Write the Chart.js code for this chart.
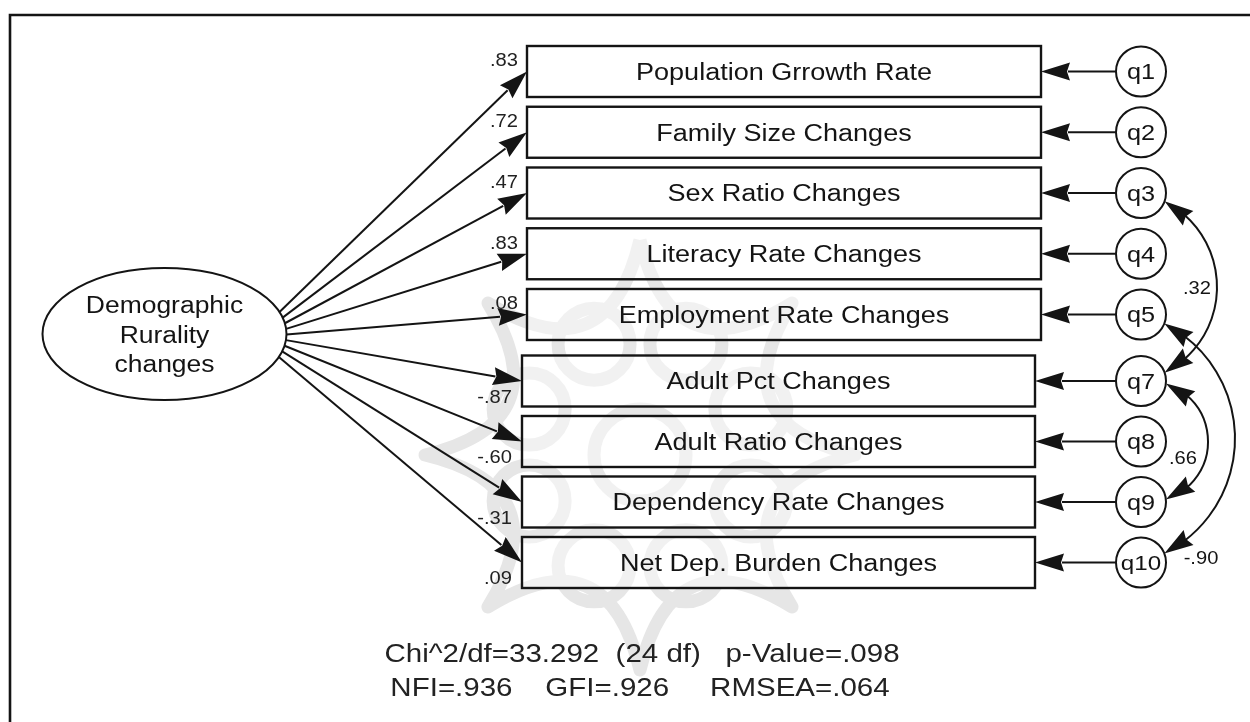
<!DOCTYPE html>
<html>
<head>
<meta charset="utf-8">
<script src="https://cdn.jsdelivr.net/npm/chart.js@4.4.1/dist/chart.umd.min.js"></script>
<style>
  html, body { margin: 0; padding: 0; background: #ffffff; }
  #wrap { width: 1250px; height: 722px; }
</style>
</head>
<body>
<div id="wrap"><canvas id="c" width="1250" height="722"></canvas></div>
<script>
// ---------------- DATA ----------------
const indicators = [
  'Population Grrowth Rate', 'Family Size Changes', 'Sex Ratio Changes',
  'Literacy Rate Changes', 'Employment Rate Changes', 'Adult Pct Changes',
  'Adult Ratio Changes', 'Dependency Rate Changes', 'Net Dep. Burden Changes'
];
const loadings = ['.83', '.72', '.47', '.83', '.08', '-.87', '-.60', '-.31', '.09'];
const errorTerms = ['q1', 'q2', 'q3', 'q4', 'q5', 'q7', 'q8', 'q9', 'q10'];
const covFrom = ['q3', 'q7', 'q5'];
const covTo = ['q7', 'q9', 'q10'];
const covValues = ['.32', '.66', '-.90'];
const latentLabel = ['Demographic', 'Rurality', 'changes'];
const fitLines = ['Chi^2/df=33.292  (24 df)   p-Value=.098', 'NFI=.936    GFI=.926     RMSEA=.064'];

// ---------------- LAYOUT (drawing geometry, not data) ----------------
const L = {
  W: 1250, H: 722,
  font: '"Liberation Sans", Arial, sans-serif',
  stretch: 1.15,
  ink: '#141414',
  frame: { x: 10, y: 15 },
  ellipse: { cx: 164.5, cy: 334, rx: 122, ry: 66, lineY: [313, 343, 372], size: 23 },
  topCount: 5,
  rowTop0: 71.5, rowStepTop: 60.75, rowBot0: 381, rowStepBot: 60.5,
  boxTop: { l: 527, r: 1041 }, boxBot: { l: 522, r: 1035 }, boxH: 51,
  boxFont: 23.5,
  errX: 1141, errR: 25, errFont: 22,
  startY0: 312, startY1: 357,
  head: { len: 29, half: 9 },
  loadFont: 17.5,
  covFont: 17.5,
  covBulge: [76, 67, 94],
  covLabelOff: [[-20, 1], [-25, 16], [-34, 119]],
  fitFont: 25, fitStretch: 1.18, fitX: [642, 640], fitBase: [662, 696],
  mark: { cx: 640, cy: 455, outer: 215, ctrl: 85, ringD: 120, ringR: 36, core: 46, color: '#e6e6e6', lw: 13 }
};

function rowY(i) {
  return i < L.topCount ? L.rowTop0 + L.rowStepTop * i : L.rowBot0 + L.rowStepBot * (i - L.topCount);
}
function boxOf(i) { return i < L.topCount ? L.boxTop : L.boxBot; }

// ---------------- DRAWING HELPERS ----------------
function stretchedText(ctx, txt, x, y, size, align, color, stretch) {
  ctx.save();
  ctx.translate(x, y);
  ctx.scale(stretch || L.stretch, 1);
  ctx.font = size + 'px ' + L.font;
  ctx.fillStyle = color || L.ink;
  ctx.textAlign = align || 'center';
  ctx.textBaseline = 'alphabetic';
  ctx.fillText(txt, 0, 0);
  ctx.restore();
}
function head(ctx, tx, ty, dx, dy) {
  const n = Math.hypot(dx, dy); dx /= n; dy /= n;
  const px = -dy, py = dx;
  const bx = tx - dx * L.head.len, by = ty - dy * L.head.len;
  ctx.beginPath();
  ctx.moveTo(tx, ty);
  ctx.lineTo(bx + px * L.head.half, by + py * L.head.half);
  ctx.lineTo(bx + dx * 3, by + dy * 3);
  ctx.lineTo(bx - px * L.head.half, by - py * L.head.half);
  ctx.closePath();
  ctx.fillStyle = L.ink;
  ctx.fill();
}
function watermark(ctx, X, Y) {
  const M = L.mark, cx = X(M.cx), cy = Y(M.cy);
  ctx.save();
  ctx.strokeStyle = M.color;
  ctx.lineWidth = M.lw;
  ctx.lineJoin = 'round';
  ctx.beginPath();
  for (let k = 0; k <= 8; k++) {
    const a = -Math.PI / 2 + k * Math.PI / 4;
    const ox = cx + M.outer * Math.cos(a), oy = cy + M.outer * Math.sin(a);
    if (k === 0) { ctx.moveTo(ox, oy); continue; }
    const m = a - Math.PI / 8;
    ctx.quadraticCurveTo(cx + M.ctrl * Math.cos(m), cy + M.ctrl * Math.sin(m), ox, oy);
  }
  ctx.stroke();
  for (let k = 0; k < 8; k++) {
    const a = -Math.PI / 2 + k * Math.PI / 4 + Math.PI / 8;
    ctx.beginPath();
    ctx.arc(cx + M.ringD * Math.cos(a), cy + M.ringD * Math.sin(a), M.ringR, 0, Math.PI * 2);
    ctx.stroke();
  }
  ctx.beginPath();
  ctx.arc(cx, cy, M.core, 0, Math.PI * 2);
  ctx.stroke();
  ctx.restore();
}

const semPlugin = {
  id: 'semDiagram',
  beforeDatasetsDraw(chart) {
    const ctx = chart.ctx;
    const X = v => chart.scales.x.getPixelForValue(v);
    const Y = v => chart.scales.y.getPixelForValue(v);
    ctx.save();
    ctx.fillStyle = '#ffffff';
    ctx.fillRect(0, 0, chart.width, chart.height);
    watermark(ctx, X, Y);
    ctx.strokeStyle = L.ink;
    ctx.lineCap = 'butt';

    // frame
    ctx.lineWidth = 2.6;
    ctx.beginPath();
    ctx.moveTo(X(L.frame.x), Y(L.H));
    ctx.lineTo(X(L.frame.x), Y(L.frame.y));
    ctx.lineTo(X(L.W), Y(L.frame.y));
    ctx.stroke();

    // latent ellipse
    const E = L.ellipse;
    ctx.lineWidth = 2;
    ctx.beginPath();
    ctx.ellipse(X(E.cx), Y(E.cy), X(E.cx + E.rx) - X(E.cx), Y(E.cy + E.ry) - Y(E.cy), 0, 0, Math.PI * 2);
    ctx.fillStyle = '#ffffff';
    ctx.fill();
    ctx.stroke();

    // indicator boxes
    indicators.forEach((name, i) => {
      const b = boxOf(i), cy = rowY(i);
      ctx.lineWidth = 2.4;
      ctx.fillStyle = 'rgba(255,255,255,0.45)';
      ctx.fillRect(X(b.l), Y(cy - L.boxH / 2), X(b.r) - X(b.l), Y(cy + L.boxH / 2) - Y(cy - L.boxH / 2));
      ctx.strokeRect(X(b.l), Y(cy - L.boxH / 2), X(b.r) - X(b.l), Y(cy + L.boxH / 2) - Y(cy - L.boxH / 2));
    });

    // loading arrows: latent -> indicators
    const n = indicators.length;
    indicators.forEach((name, i) => {
      const sy = L.startY0 + (L.startY1 - L.startY0) * i / (n - 1);
      const th = Math.asin((sy - E.cy) / E.ry);
      const sx = E.cx + E.rx * Math.cos(th);
      const b = boxOf(i), ty = rowY(i), tx = b.l;
      const dx = X(tx) - X(sx), dy = Y(ty) - Y(sy), d = Math.hypot(dx, dy);
      ctx.lineWidth = 2;
      ctx.beginPath();
      ctx.moveTo(X(sx), Y(sy));
      ctx.lineTo(X(tx) - dx / d * (L.head.len - 2), Y(ty) - dy / d * (L.head.len - 2));
      ctx.stroke();
      head(ctx, X(tx), Y(ty), dx, dy);
    });

    // error arrows: q -> indicator
    errorTerms.forEach((q, i) => {
      const b = boxOf(i), cy = rowY(i);
      ctx.lineWidth = 2;
      ctx.beginPath();
      ctx.moveTo(X(L.errX - L.errR), Y(cy));
      ctx.lineTo(X(b.r) + L.head.len - 2, Y(cy));
      ctx.stroke();
      head(ctx, X(b.r), Y(cy), -1, 0);
    });

    // covariance arcs
    covValues.forEach((val, k) => {
      const a = errorTerms.indexOf(covFrom[k]), c = errorTerms.indexOf(covTo[k]);
      const Ax = X(L.errX), Ay = Y(rowY(a)), Bx = X(L.errX), By = Y(rowY(c));
      const Mx = (Ax + Bx) / 2, My = (Ay + By) / 2;
      const chord = Math.hypot(Bx - Ax, By - Ay);
      const s = L.covBulge[k];
      const R = (chord * chord / 4 + s * s) / (2 * s);
      const Cx = Mx + (s - R), Cy = My;
      const angA = Math.atan2(Ay - Cy, Ax - Cx), angB = Math.atan2(By - Cy, Bx - Cx);
      const del = 2 * Math.asin(L.errR / (2 * R));
      const a0 = angA + del, a1 = angB - del;
      const hl = L.head.len / R;
      ctx.lineWidth = 2;
      ctx.beginPath();
      ctx.arc(Cx, Cy, R, a0 + hl * 0.8, a1 - hl * 0.8, false);
      ctx.stroke();
      const p0 = [Cx + R * Math.cos(a0), Cy + R * Math.sin(a0)];
      const q0 = [Cx + R * Math.cos(a0 + hl), Cy + R * Math.sin(a0 + hl)];
      head(ctx, p0[0], p0[1], p0[0] - q0[0], p0[1] - q0[1]);
      const p1 = [Cx + R * Math.cos(a1), Cy + R * Math.sin(a1)];
      const q1 = [Cx + R * Math.cos(a1 - hl), Cy + R * Math.sin(a1 - hl)];
      head(ctx, p1[0], p1[1], p1[0] - q1[0], p1[1] - q1[1]);
      const apexX = Mx + s, off = L.covLabelOff[k];
      stretchedText(ctx, val, apexX + off[0], My + off[1] + 0.358 * L.covFont, L.covFont, 'center');
    });
    ctx.restore();
  },
  afterDatasetsDraw(chart) {
    const ctx = chart.ctx;
    const X = v => chart.scales.x.getPixelForValue(v);
    const Y = v => chart.scales.y.getPixelForValue(v);
    ctx.save();
    const E = L.ellipse;
    latentLabel.forEach((t, j) => stretchedText(ctx, t, X(E.cx), Y(E.lineY[j]), E.size, 'center'));
    indicators.forEach((name, i) => {
      const b = boxOf(i), cy = rowY(i);
      stretchedText(ctx, name, X((b.l + b.r) / 2), Y(cy + 0.358 * L.boxFont), L.boxFont, 'center');
      if (i < L.topCount) {
        stretchedText(ctx, loadings[i], X(b.l - 9), Y(cy - L.boxH / 2 + 14 + 0.358 * L.loadFont), L.loadFont, 'right', '#222');
      } else {
        stretchedText(ctx, loadings[i], X(b.l - 10), Y(cy + L.boxH / 2 - 10 + 0.358 * L.loadFont), L.loadFont, 'right', '#222');
      }
    });
    errorTerms.forEach((q, i) => {
      stretchedText(ctx, q, X(L.errX), Y(rowY(i) + 0.36 * L.errFont), L.errFont - (q.length > 2 ? 1 : 0), 'center');
    });
    fitLines.forEach((t, j) => stretchedText(ctx, t, X(L.fitX[j]), Y(L.fitBase[j]), L.fitFont, 'center', '#222', L.fitStretch));
    ctx.restore();
  }
};

new Chart(document.getElementById('c'), {
  type: 'scatter',
  data: {
    datasets: [{
      label: 'error terms',
      data: errorTerms.map((q, i) => ({ x: L.errX, y: rowY(i) })),
      pointRadius: L.errR,
      pointHoverRadius: L.errR,
      pointBackgroundColor: '#ffffff',
      pointBorderColor: L.ink,
      pointBorderWidth: 2,
      clip: false
    }]
  },
  options: {
    responsive: false,
    devicePixelRatio: 1,
    animation: false,
    events: [],
    layout: { padding: 0, autoPadding: false },
    plugins: { legend: { display: false }, tooltip: { enabled: false }, title: { display: false } },
    scales: {
      x: { type: 'linear', min: 0, max: L.W, display: false },
      y: { type: 'linear', min: 0, max: L.H, reverse: true, display: false }
    }
  },
  plugins: [semPlugin]
});
</script>
</body>
</html>
